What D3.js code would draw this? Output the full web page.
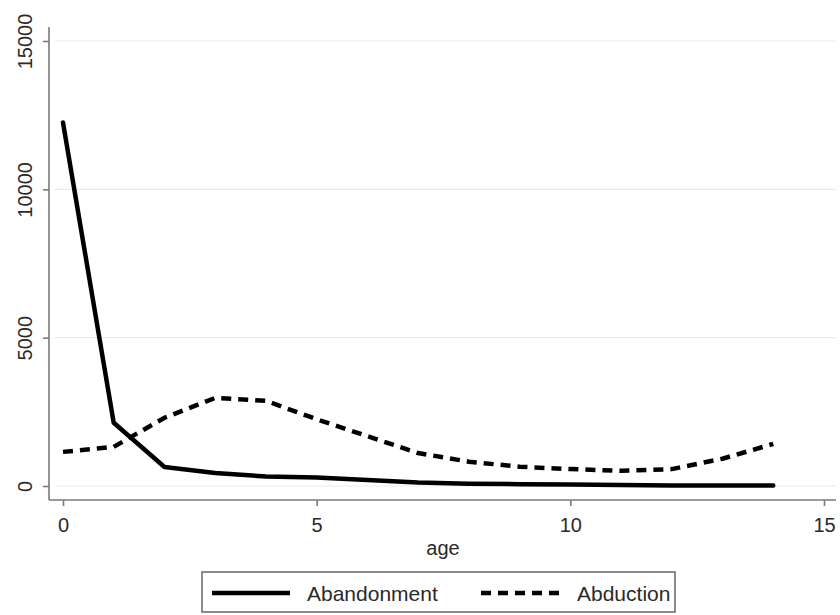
<!DOCTYPE html>
<html>
<head>
<meta charset="utf-8">
<script src="https://cdn.jsdelivr.net/npm/d3@7"></script>
<style>
  body { margin: 0; background: #fff; }
  svg { display: block; font-family: "Liberation Sans", Arial, sans-serif; }
</style>
</head>
<body>
<div id="chart"></div>
<script>
// ages on the x axis
const ages = [0, 1, 2, 3, 4, 5, 6, 7, 8, 9, 10, 11, 12, 13, 14];
// counts
const abandonment = [12250, 2130, 640, 440, 320, 290, 200, 120, 80, 60, 50, 30, 20, 20, 20];
const abduction = [1150, 1320, 2300, 2970, 2870, 2250, 1680, 1110, 820, 650, 570, 510, 570, 920, 1420];
const xTicks = [0, 5, 10, 15];
const yTicks = [0, 5000, 10000, 15000];
const seriesNames = ['Abandonment', 'Abduction'];

const width = 840, height = 615;

const svg = d3.select('#chart').append('svg')
    .attr('width', width)
    .attr('height', height);

// scales: 0 -> 63px, 15 -> 824px ; 0 -> 486px, 15000 -> 41px
const x = d3.scaleLinear().domain([0, 15]).range([63, 824]);
const y = d3.scaleLinear().domain([0, 15000]).range([486, 41]);

// gridlines
svg.append('g')
    .selectAll('line')
    .data(yTicks)
    .enter().append('line')
    .attr('x1', 55)
    .attr('x2', 836)
    .attr('y1', d => y(d))
    .attr('y2', d => y(d))
    .attr('stroke', '#ebebeb')
    .attr('stroke-width', 1.2);

// y axis
const yAxis = svg.append('g')
    .attr('transform', 'translate(49,0)')
    .call(d3.axisLeft(y).tickValues(yTicks).tickSize(6).tickFormat(d3.format('d')));
yAxis.select('.domain').attr('d', 'M0,27V500');
// rotated labels, reading bottom-to-top
yAxis.selectAll('.tick text')
    .attr('transform', 'rotate(-90)')
    .attr('x', 0)
    .attr('y', -17)
    .attr('dy', 0)
    .attr('text-anchor', 'middle');

// x axis
const xAxis = svg.append('g')
    .attr('transform', 'translate(0,500)')
    .call(d3.axisBottom(x).tickValues(xTicks).tickSize(6).tickPadding(12));
xAxis.select('.domain').attr('d', 'M49,0H836');

svg.selectAll('.tick text')
    .attr('font-size', 20)
    .attr('fill', '#2a2a2a')
    .attr('font-family', '"Liberation Sans", Arial, sans-serif');
svg.selectAll('.domain, .tick line').attr('stroke', '#7a7a7a').attr('stroke-width', 1.6);

// axis title
svg.append('text')
    .attr('x', 443)
    .attr('y', 555)
    .attr('text-anchor', 'middle')
    .attr('font-size', 20)
    .attr('fill', '#2a2a2a')
    .text('age');

// lines
const line = d3.line()
    .x((d, i) => x(ages[i]))
    .y(d => y(d));

svg.append('path')
    .datum(abduction)
    .attr('d', line)
    .attr('fill', 'none')
    .attr('stroke', '#000')
    .attr('stroke-width', 4.5)
    .attr('stroke-dasharray', '10,7');

svg.append('path')
    .datum(abandonment)
    .attr('d', line)
    .attr('fill', 'none')
    .attr('stroke', '#000')
    .attr('stroke-width', 4.5)
    .attr('stroke-linejoin', 'round')
    .attr('stroke-linecap', 'round');

// legend
const legend = svg.append('g');
legend.append('rect')
    .attr('x', 202)
    .attr('y', 572)
    .attr('width', 473)
    .attr('height', 40)
    .attr('fill', '#fff')
    .attr('stroke', '#666')
    .attr('stroke-width', 1.5);

const legendItems = [
    { name: seriesNames[0], x1: 212, x2: 290, tx: 307, dash: null },
    { name: seriesNames[1], x1: 481, x2: 563, tx: 577, dash: '10,7' }
];

legendItems.forEach(item => {
    legend.append('line')
        .attr('x1', item.x1)
        .attr('x2', item.x2)
        .attr('y1', 593)
        .attr('y2', 593)
        .attr('stroke', '#000')
        .attr('stroke-width', 4.5)
        .attr('stroke-dasharray', item.dash);
    legend.append('text')
        .attr('x', item.tx)
        .attr('y', 601)
        .attr('font-size', 21)
        .attr('fill', '#2a2a2a')
        .text(item.name);
});
</script>
</body>
</html>
